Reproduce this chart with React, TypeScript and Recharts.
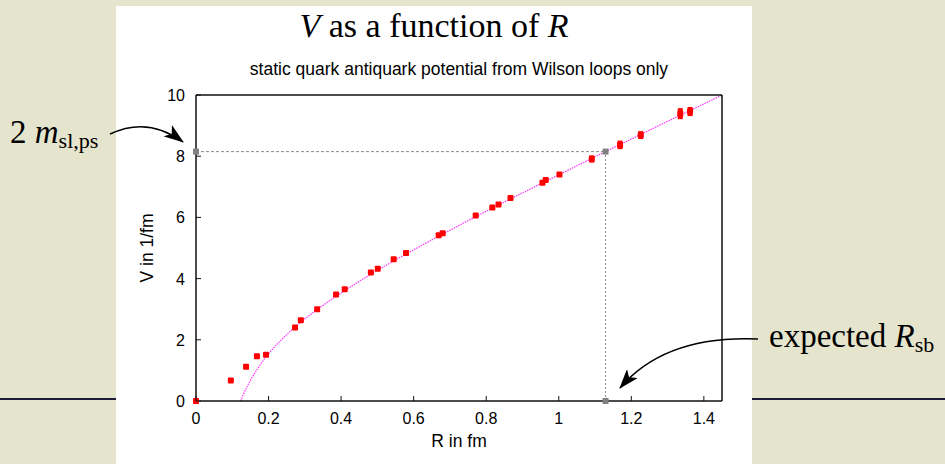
import React from "react";
import {
  ComposedChart,
  Scatter,
  Line,
  XAxis,
  YAxis,
  ErrorBar,
  ReferenceLine,
} from "recharts";

// measured potential V(R) from Wilson loops
const pointR = [0, 0.096, 0.138, 0.168, 0.193, 0.273, 0.289, 0.334, 0.386, 0.41, 0.482, 0.501, 0.545, 0.579, 0.669, 0.68, 0.771, 0.817, 0.834, 0.867, 0.955, 0.964, 1.002, 1.091, 1.169, 1.226, 1.335, 1.362];
const pointV = [0, 0.67, 1.12, 1.46, 1.51, 2.4, 2.64, 3.0, 3.48, 3.65, 4.2, 4.32, 4.63, 4.84, 5.42, 5.48, 6.06, 6.32, 6.42, 6.63, 7.13, 7.22, 7.4, 7.91, 8.37, 8.69, 9.39, 9.46];
const pointErr = [0, 0, 0, 0, 0, 0.02, 0.02, 0.02, 0.02, 0.02, 0.03, 0.03, 0.03, 0.03, 0.04, 0.04, 0.04, 0.04, 0.04, 0.04, 0.06, 0.06, 0.06, 0.12, 0.14, 0.13, 0.18, 0.15];

// fitted curve (magenta, dotted)
const fitR = [0.123, 0.13, 0.14, 0.15, 0.17, 0.2, 0.25, 0.3, 0.4, 0.5, 0.6, 0.7, 0.8, 0.9, 1.0, 1.1, 1.2, 1.3, 1.4, 1.45];
const fitV = [0, 0.2, 0.45, 0.67, 1.06, 1.54, 2.17, 2.68, 3.53, 4.27, 4.94, 5.58, 6.2, 6.8, 7.39, 7.98, 8.56, 9.14, 9.71, 10.0];

// string breaking level 2 m_sl,ps and expected R_sb
const twoM = 8.15;
const rsb = 1.129;
const markR = [0, rsb, rsb];
const markV = [twoM, twoM, 0];

const xTicks = [0, 0.2, 0.4, 0.6, 0.8, 1, 1.2, 1.4];
const yTicks = [0, 2, 4, 6, 8, 10];

const points = pointR.map((r, i) => ({ r, v: pointV[i], err: pointErr[i] }));
const fit = fitR.map((r, i) => ({ r, v: fitV[i] }));
const marks = markR.map((r, i) => ({ r, v: markV[i] }));

const sans = "'Liberation Sans', Arial, sans-serif";
const serif = "'Liberation Serif', 'Times New Roman', serif";
const frame = { stroke: "#111", strokeWidth: 1.5 };

const BottomTick = (p: any) => (
  <g>
    <line x1={p.x} y1={p.y} x2={p.x} y2={p.y - 5} stroke="#111" />
    <text x={p.x} y={p.y + 23} textAnchor="middle" fontSize={16} fontFamily={sans} fill="#000">
      {p.payload.value}
    </text>
  </g>
);
const TopTick = (p: any) => <line x1={p.x} y1={p.y} x2={p.x} y2={p.y + 5} stroke="#111" />;
const LeftTick = (p: any) => (
  <g>
    <line x1={p.x} y1={p.y} x2={p.x + 5} y2={p.y} stroke="#111" />
    <text x={p.x - 11} y={p.y + 6} textAnchor="end" fontSize={16} fontFamily={sans} fill="#000">
      {p.payload.value}
    </text>
  </g>
);
const RightTick = (p: any) => <line x1={p.x} y1={p.y} x2={p.x - 5} y2={p.y} stroke="#111" />;

const RedSquare = (p: any) =>
  p.cx == null ? null : <rect x={p.cx - 3} y={p.cy - 3} width={6} height={6} rx={1} fill="#ff0000" />;
const GreySquare = (p: any) =>
  p.cx == null ? null : <rect x={p.cx - 3} y={p.cy - 3} width={6} height={6} fill="#808080" />;

export default function App() {
  return (
    <div style={{ position: "absolute", left: 0, top: 0, width: 945, height: 464, background: "#e5e4cc", overflow: "hidden" }}>
      <div style={{ position: "absolute", left: 0, top: 398, width: 945, height: 2, background: "#1c1c38" }} />
      <div style={{ position: "absolute", left: 116, top: 6, width: 636, height: 458, background: "#fff" }}>
        <ComposedChart width={636} height={458} margin={{ top: 59, right: 20, bottom: 33, left: 40 }}>
          <XAxis
            type="number"
            dataKey="r"
            domain={[0, 1.45]}
            ticks={xTicks}
            interval={0}
            height={30}
            tickSize={0}
            tickMargin={0}
            tickLine={false}
            axisLine={frame}
            tick={BottomTick}
          />
          <XAxis
            xAxisId="top"
            orientation="top"
            type="number"
            domain={[0, 1.45]}
            ticks={xTicks}
            interval={0}
            height={30}
            tickSize={0}
            tickMargin={0}
            tickLine={false}
            axisLine={frame}
            tick={TopTick}
          />
          <YAxis
            type="number"
            domain={[0, 10]}
            ticks={yTicks}
            interval={0}
            width={40}
            tickSize={0}
            tickMargin={0}
            tickLine={false}
            axisLine={frame}
            tick={LeftTick}
          />
          <YAxis
            yAxisId="right"
            orientation="right"
            type="number"
            domain={[0, 10]}
            ticks={yTicks}
            interval={0}
            width={10}
            tickSize={0}
            tickMargin={0}
            tickLine={false}
            axisLine={frame}
            tick={RightTick}
          />
          <ReferenceLine
            segment={[{ x: 0, y: twoM }, { x: rsb, y: twoM }]}
            stroke="#888"
            strokeDasharray="3 2"
          />
          <ReferenceLine
            segment={[{ x: rsb, y: 0 }, { x: rsb, y: twoM }]}
            stroke="#888"
            strokeDasharray="2 2"
          />
          <Line
            data={fit}
            dataKey="v"
            type="monotone"
            stroke="#ff33ff"
            strokeWidth={1.2}
            strokeDasharray="1.5 1"
            dot={false}
            activeDot={false}
            isAnimationActive={false}
          />
          <Scatter data={marks} dataKey="v" shape={GreySquare} isAnimationActive={false} />
          <Scatter data={points} dataKey="v" shape={RedSquare} isAnimationActive={false}>
            <ErrorBar dataKey="err" direction="y" width={0} stroke="#ff0000" strokeWidth={5} />
          </Scatter>
        </ComposedChart>
      </div>
      <svg width={945} height={464} style={{ position: "absolute", left: 0, top: 0, pointerEvents: "none" }}>
        <defs>
          <marker id="head" viewBox="0 0 20 14" refX={19} refY={7} markerWidth={20} markerHeight={14} markerUnits="userSpaceOnUse" orient="auto">
            <path d="M0,0 L20,7 L0,14 L5,7 z" fill="#000" />
          </marker>
        </defs>
        <text x={434} y={37} textAnchor="middle" fontSize={34} fontFamily={serif} fill="#000">
          <tspan fontStyle="italic">V</tspan> as a function of <tspan fontStyle="italic">R</tspan>
        </text>
        <text x={459} y={75} textAnchor="middle" fontSize={17.5} fontFamily={sans} fill="#000">
          static quark antiquark potential from Wilson loops only
        </text>
        <text x={459} y={447} textAnchor="middle" fontSize={17.5} fontFamily={sans} fill="#000">
          R in fm
        </text>
        <text transform="translate(153,248) rotate(-90)" textAnchor="middle" fontSize={17.5} fontFamily={sans} fill="#000">
          V in 1/fm
        </text>
        <text x={10} y={143} fontSize={33} fontFamily={serif} fill="#000">
          2 <tspan fontStyle="italic">m</tspan>
          <tspan fontSize={22} dy={5}>sl,ps</tspan>
        </text>
        <path d="M110,134 Q148,116 183,142" fill="none" stroke="#000" strokeWidth={1.5} markerEnd="url(#head)" />
        <text x={769} y={347} fontSize={33} fontFamily={serif} fill="#000">
          expected <tspan fontStyle="italic">R</tspan>
          <tspan fontSize={22} dy={5}>sb</tspan>
        </text>
        <path d="M758,339 Q665,335 620,388" fill="none" stroke="#000" strokeWidth={1.5} markerEnd="url(#head)" />
      </svg>
    </div>
  );
}
